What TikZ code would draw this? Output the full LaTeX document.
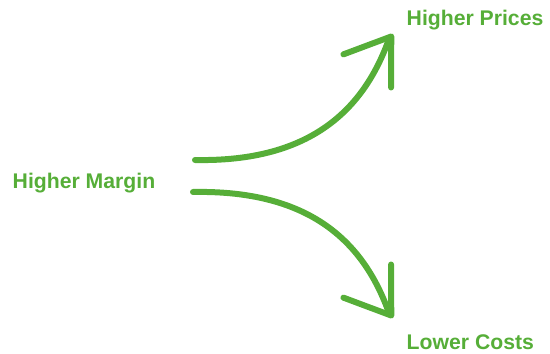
\documentclass[tikz,border=0pt]{standalone}
\usepackage{fontspec}
\setmainfont{Liberation Sans}
\usetikzlibrary{arrows.meta}
\definecolor{leafgreen}{RGB}{86,174,56}
\begin{document}
\begin{tikzpicture}[
  x=1pt, y=1pt,
  label/.style={anchor=base west, inner sep=0pt, text=leafgreen, font=\fontsize{21.2}{25}\selectfont\bfseries},
  arrow/.style={-{Straight Barb[length=42pt, width=58pt, round]}, line width=6pt, line cap=round, line join=round, draw=leafgreen},
]
  \useasboundingbox (0,0) rectangle (550,354);
  \node[label] (margin) at (12.5, 165.7) {Higher Margin};
  \node[label] (prices) at (406.5, 328) {Higher Prices};
  \node[label] (costs) at (406.5, 4) {Lower Costs};
  \coordinate (up start) at (195, 194);
  \coordinate (up end) at (393, 320);
  \coordinate (down start) at (193, 162);
  \coordinate (down end) at (393, 36);
  \draw[arrow] (up start) .. controls (300, 192) and (360, 235) .. (388.4, 313.4) -- (up end);
  \draw[arrow] (down start) .. controls (300, 164) and (360, 121) .. (388.4, 42.6) -- (down end);
\end{tikzpicture}
\end{document}
